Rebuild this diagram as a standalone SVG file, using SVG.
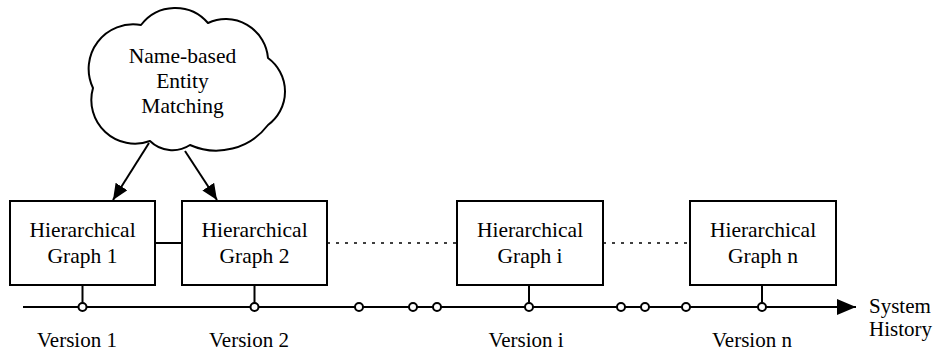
<svg xmlns="http://www.w3.org/2000/svg" width="935" height="353" viewBox="0 0 935 353">
<style>
text{font-family:"Liberation Serif","Times New Roman",serif;font-size:21.5px;fill:#000}
.v{font-size:21px}
.box{fill:#fff;stroke:#000;stroke-width:2}
.ln{stroke:#000;stroke-width:2;fill:none}
.dot{stroke:#000;stroke-width:1.6;fill:none;stroke-dasharray:3 6}
.c{fill:#fff;stroke:#000;stroke-width:2}
</style>
<defs>
<marker id="ah" markerWidth="16" markerHeight="14" refX="16" refY="7" orient="auto" markerUnits="userSpaceOnUse">
<path d="M0,0 L16,7 L0,14 Z" fill="#000"/>
</marker>
<marker id="ah2" markerWidth="19" markerHeight="16" refX="19" refY="8" orient="auto" markerUnits="userSpaceOnUse">
<path d="M0,0 L19,8 L0,16 Z" fill="#000"/>
</marker>
</defs>
<g id="connectors">
<line class="ln" x1="155" y1="243" x2="182" y2="243"/>
<line class="dot" x1="327" y1="243" x2="457" y2="243"/>
<line class="dot" x1="603" y1="243" x2="690" y2="243"/>
<line class="ln" x1="149" y1="143" x2="113" y2="200" marker-end="url(#ah)"/>
<line class="ln" x1="185" y1="151" x2="217" y2="200" marker-end="url(#ah)"/>
<line class="ln" x1="23" y1="307" x2="856" y2="307" marker-end="url(#ah2)"/>
<line class="ln" x1="82.5" y1="285" x2="82.5" y2="303"/>
<line class="ln" x1="254.5" y1="285" x2="254.5" y2="303"/>
<line class="ln" x1="529" y1="285" x2="529" y2="303"/>
<line class="ln" x1="762" y1="285" x2="762" y2="303"/>
</g>
<g id="timeline-points">
<circle class="c" cx="82.5" cy="307" r="4"/>
<circle class="c" cx="254.5" cy="307" r="4"/>
<circle class="c" cx="359" cy="307" r="4"/>
<circle class="c" cx="413" cy="307" r="4"/>
<circle class="c" cx="437" cy="307" r="4"/>
<circle class="c" cx="529" cy="307" r="4"/>
<circle class="c" cx="621" cy="307" r="4"/>
<circle class="c" cx="645" cy="307" r="4"/>
<circle class="c" cx="686" cy="307" r="4"/>
<circle class="c" cx="762" cy="307" r="4"/>
</g>
<g id="cloud">
<path d="M93,88 A44.5,44.5 0 0 1 141,25 A43,43 0 0 1 208,23 A42.4,42.4 0 0 1 268,58 A41.5,41.5 0 0 1 268,125 A65,65 0 0 1 190,145 A32,32 0 0 1 150,141 A43.7,43.7 0 0 1 93,88 Z" fill="#fff" stroke="#000" stroke-width="2" stroke-linejoin="round"/>
<text x="182.5" y="63" text-anchor="middle">Name-based</text>
<text x="182.5" y="88" text-anchor="middle">Entity</text>
<text x="182.5" y="113" text-anchor="middle">Matching</text>
</g>
<g id="graph1">
<rect class="box" x="10" y="201" width="145" height="84"/>
<text x="82.5" y="237" text-anchor="middle">Hierarchical</text>
<text x="82.5" y="263" text-anchor="middle">Graph 1</text>
</g>
<g id="graph2">
<rect class="box" x="182" y="201" width="145" height="84"/>
<text x="254.5" y="237" text-anchor="middle">Hierarchical</text>
<text x="254.5" y="263" text-anchor="middle">Graph 2</text>
</g>
<g id="graphi">
<rect class="box" x="457" y="201" width="146" height="84"/>
<text x="530" y="237" text-anchor="middle">Hierarchical</text>
<text x="530" y="263" text-anchor="middle">Graph i</text>
</g>
<g id="graphn">
<rect class="box" x="690" y="201" width="146" height="84"/>
<text x="763" y="237" text-anchor="middle">Hierarchical</text>
<text x="763" y="263" text-anchor="middle">Graph n</text>
</g>
<g id="labels">
<text class="v" x="77" y="347" text-anchor="middle">Version 1</text>
<text class="v" x="249" y="347" text-anchor="middle">Version 2</text>
<text class="v" x="526" y="347" text-anchor="middle">Version i</text>
<text class="v" x="752" y="347" text-anchor="middle">Version n</text>
<text class="v" x="869" y="313">System</text>
<text class="v" x="869" y="336">History</text>
</g>
</svg>
